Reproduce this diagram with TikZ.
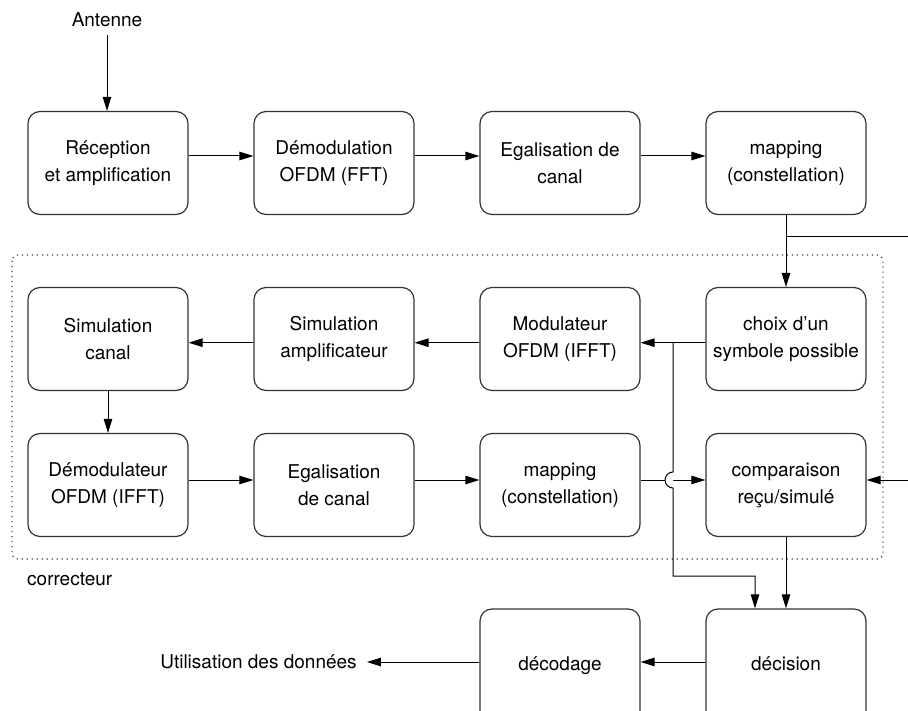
\documentclass[tikz,border=0pt]{standalone}
\usepackage{fontspec}
\setmainfont{TeX Gyre Heros}
\usetikzlibrary{arrows.meta}
\newcommand{\blocfont}{\fontsize{19pt}{27pt}\selectfont}
\begin{document}
\begin{tikzpicture}[x=1pt,y=-1pt,
  bloc/.style={draw=black!80, line width=1.2pt, rounded corners=12pt,
    minimum width=160pt, minimum height=103pt, align=center, inner sep=0pt,
    font=\blocfont},
  basbloc/.style={bloc, minimum height=120pt},
  lbl/.style={font=\blocfont, inner sep=0pt},
  arr/.style={line width=1pt, -{Triangle[length=14pt,width=8.5pt]}},
  ligne/.style={line width=1pt},
  cadre/.style={draw=black!75, line width=1.2pt, dash pattern=on 1.2pt off 3.8pt,
    rounded corners=6pt}]
\useasboundingbox (0,0) rectangle (908,711);

% correcteur frame
\draw[cadre] (12,255) rectangle (883,559);
\node[lbl, anchor=west] (corr) at (27,579) {correcteur};

% first row: receiver chain
\node[bloc] (rec) at (108,163) {Réception\\et amplification};
\node[bloc] (dem) at (334,163) {Démodulation\\OFDM (FFT)};
\node[bloc] (ega) at (560,163) {Egalisation de\\canal};
\node[bloc] (map) at (786,163) {mapping\\(constellation)};

% second row
\node[bloc] (simc) at (108,339) {Simulation\\canal};
\node[bloc] (sima) at (334,339) {Simulation\\amplificateur};
\node[bloc] (mod)  at (560,339) {Modulateur\\OFDM (IFFT)};
\node[bloc] (cho)  at (786,339) {choix d’un\\symbole possible};

% third row
\node[bloc] (demr) at (108,485) {Démodulateur\\OFDM (IFFT)};
\node[bloc] (egr)  at (334,485) {Egalisation\\de canal};
\node[bloc] (mapr) at (560,485) {mapping\\(constellation)};
\node[bloc] (comp) at (786,485) {comparaison\\reçu/simulé};

% last row, running past the lower edge
\node[basbloc] (dec)   at (786,669) {\raisebox{10pt}{décision}};
\node[basbloc] (decod) at (560,669) {\raisebox{10pt}{décodage}};
\node[lbl, inner sep=10pt] (util) at (258.5,662) {Utilisation des données};

% antenna input
\node[lbl, anchor=base, inner sep=8pt] (ant) at (107,27) {Antenne};
\draw[arr] (ant.south) -- (ant.south |- rec.north);

% receiver chain arrows
\draw[arr] ([yshift=7pt]rec.east) -- ([yshift=7pt]dem.west);
\draw[arr] ([yshift=7pt]dem.east) -- ([yshift=7pt]ega.west);
\draw[arr] ([yshift=7pt]ega.east) -- ([yshift=7pt]map.west);
\draw[arr] (map.south) -- (cho.north);

% branch leaving to the right
\coordinate (rt) at (908,237);
\draw[ligne] (map.south |- rt) -- (rt);

% simulation loop
\draw[arr] ([yshift=-3.7pt]cho.west) -- ([yshift=-3.7pt]mod.east);
\draw[arr] ([yshift=-3.7pt]mod.west) -- ([yshift=-3.7pt]sima.east);
\draw[arr] ([yshift=-3.7pt]sima.west) -- ([yshift=-3.7pt]simc.east);
\draw[arr] (simc.south) -- (demr.north);
\draw[arr] ([yshift=5pt]demr.east) -- ([yshift=5pt]egr.west);
\draw[arr] ([yshift=5pt]egr.east) -- ([yshift=5pt]mapr.west);
\draw[arr] ([yshift=5pt]mapr.east) -- ([yshift=5pt]comp.west);

% input from the right
\coordinate (rin) at (908,480);
\draw[arr] (rin) -- (comp.east |- rin);

% chosen symbol to the decision, hopping over the mapping line
\coordinate (tap)  at (673,342.7);
\coordinate (hop)  at (673,480);
\coordinate (bend) at (673,576);
\coordinate (drop) at (755,576);
\fill[white] ([yshift=8pt]hop) arc[start angle=90, end angle=270, radius=8pt] -- cycle;
\draw[arr] (tap) -- ([yshift=8pt]hop) arc[start angle=90, end angle=270, radius=8pt]
  -- (bend) -- (drop) -- (drop |- dec.north);

\draw[arr] (comp.south) -- (dec.north);

% output
\draw[arr] ([yshift=7pt]dec.west) -- ([yshift=7pt]decod.east);
\draw[arr] ([yshift=7pt]decod.west) -- (util.east |- {0,662});
\end{tikzpicture}
\end{document}
